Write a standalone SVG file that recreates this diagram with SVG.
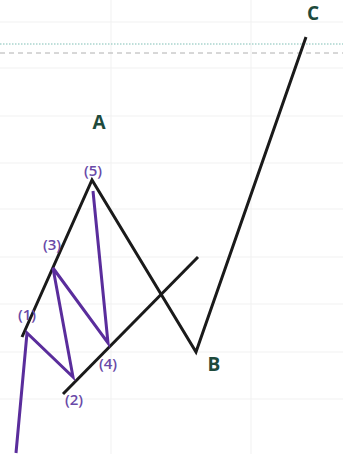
<svg xmlns="http://www.w3.org/2000/svg" width="343" height="454" viewBox="0 0 343 454">
<style>
.grid{stroke:#f1f1f1;stroke-width:1}
.blk{stroke:#1a1a1a;stroke-width:3;fill:none;stroke-linecap:butt}
.pur{stroke:#5a2d9c;stroke-width:3;fill:none}
.wl{font-family:"Open Sans","Liberation Sans",sans-serif;font-size:15px;font-weight:600;fill:#6a4aa8;text-anchor:middle}
.lt{font-family:"Open Sans","Liberation Sans",sans-serif;font-size:19px;font-weight:700;fill:#1e4a3c;text-anchor:middle}
</style>
<rect width="343" height="454" fill="#ffffff"/>
<g id="grid">
<line class="grid" x1="111" y1="0" x2="111" y2="454"/>
<line class="grid" x1="251" y1="0" x2="251" y2="454"/>
<line class="grid" x1="0" y1="22" x2="343" y2="22"/>
<line class="grid" x1="0" y1="68" x2="343" y2="68"/>
<line class="grid" x1="0" y1="116" x2="343" y2="116"/>
<line class="grid" x1="0" y1="163" x2="343" y2="163"/>
<line class="grid" x1="0" y1="209" x2="343" y2="209"/>
<line class="grid" x1="0" y1="257" x2="343" y2="257"/>
<line class="grid" x1="0" y1="304" x2="343" y2="304"/>
<line class="grid" x1="0" y1="352" x2="343" y2="352"/>
<line class="grid" x1="0" y1="399" x2="343" y2="399"/>
<line x1="0" y1="44" x2="343" y2="44" stroke="#7fbfb5" stroke-width="1" stroke-dasharray="1.5 1.5"/>
<line x1="0" y1="53" x2="343" y2="53" stroke="#b0b0b0" stroke-width="1" stroke-dasharray="5 4"/>
</g>
<g id="connectors">
<polyline class="blk" points="22,337 92,180 196,352 306,37"/>
<line class="blk" x1="63" y1="394" x2="198" y2="257"/>
<polyline class="pur" points="16,453 27,333 73,377 53,268 108,343 93,191"/>
</g>
<g id="label-1"><text class="wl" x="27" y="320">(1)</text></g>
<g id="label-2"><text class="wl" x="74" y="405">(2)</text></g>
<g id="label-3"><text class="wl" x="52" y="250">(3)</text></g>
<g id="label-4"><text class="wl" x="108" y="369">(4)</text></g>
<g id="label-5"><text class="wl" x="93" y="176">(5)</text></g>
<g id="label-A"><text class="lt" x="99" y="129">A</text></g>
<g id="label-B"><text class="lt" x="214" y="371">B</text></g>
<g id="label-C"><text class="lt" x="313" y="20">C</text></g>
</svg>
